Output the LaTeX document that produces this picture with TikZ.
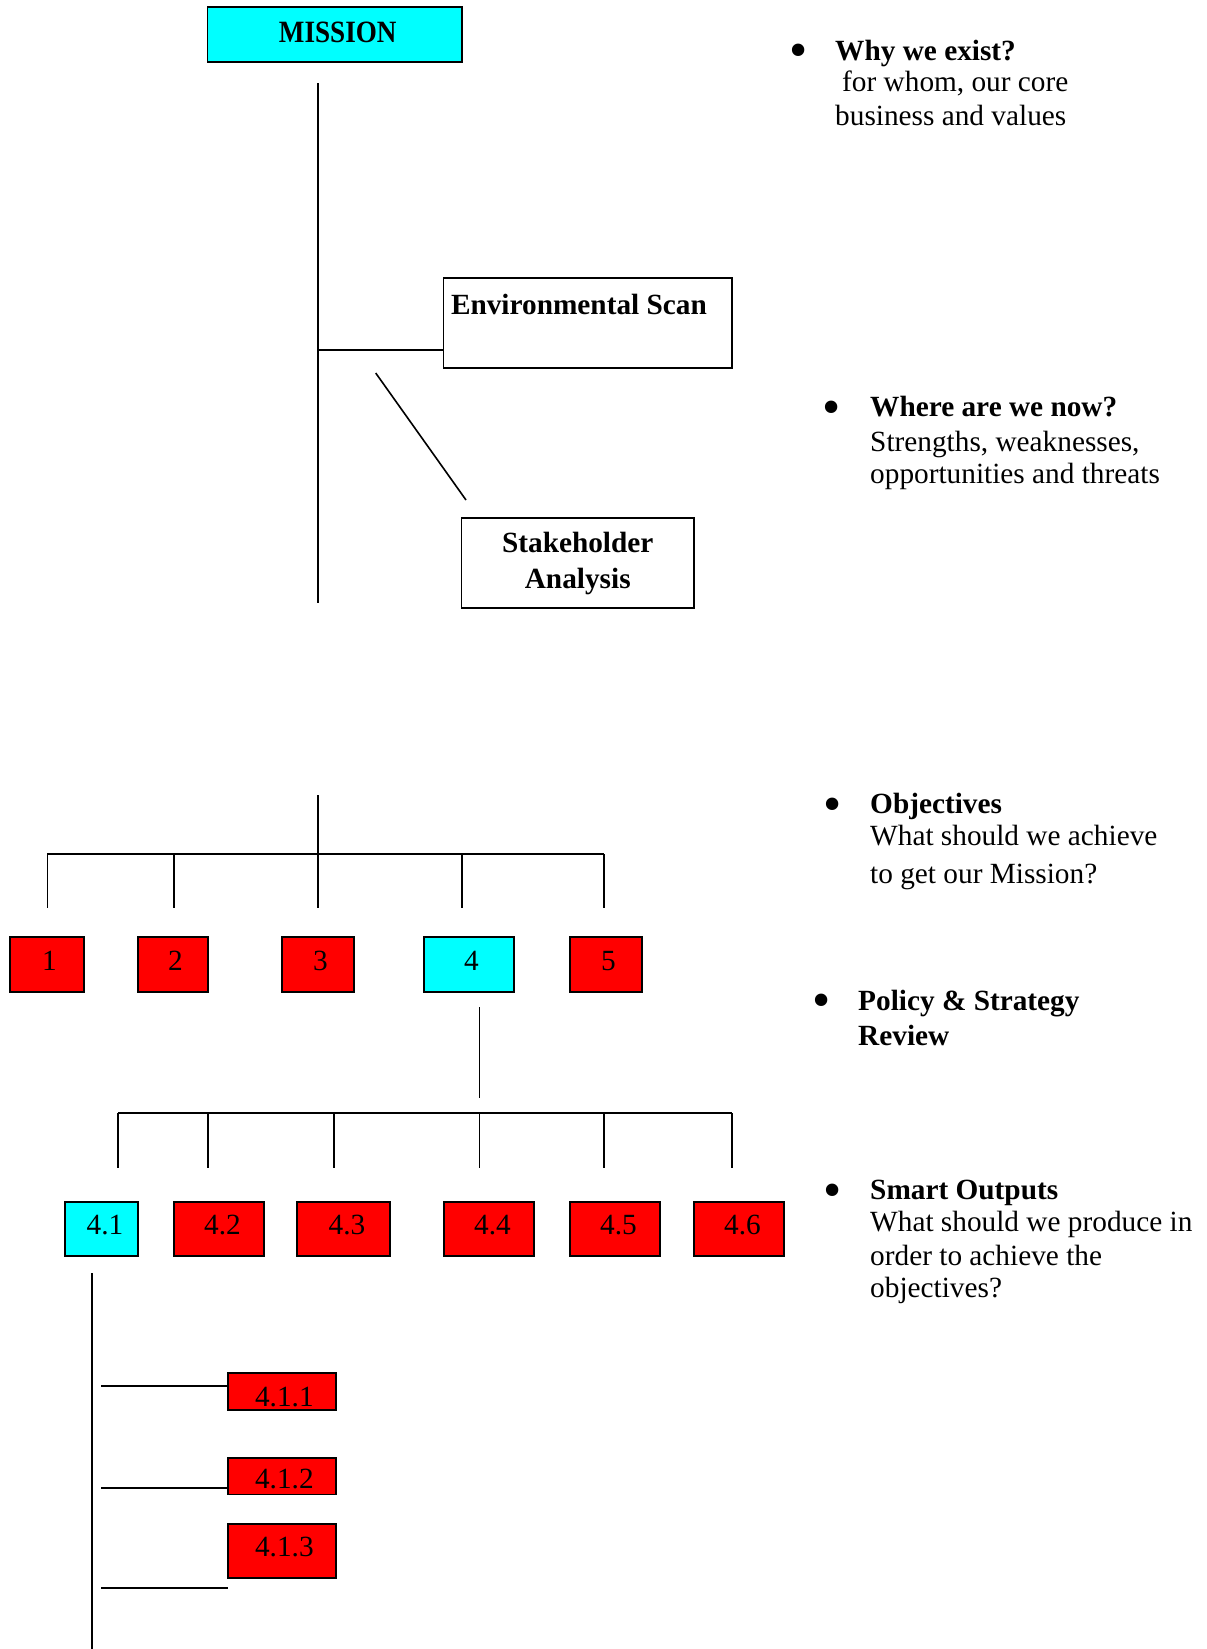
\documentclass[tikz,border=0pt]{standalone}
\usepackage{fontspec}
\setmainfont{Liberation Serif}
\definecolor{boxcyan}{RGB}{0,255,255}
\definecolor{boxred}{RGB}{255,0,0}
\begin{document}
\begin{tikzpicture}[x=1pt,y=-1pt,
  conn/.style={draw=black,line width=1.6pt},
  box/.style={draw=black,line width=1.6pt,inner sep=0pt,
    font=\fontsize{29.3}{33}\selectfont},
  redbox/.style={box,fill=boxred},
  cyanbox/.style={box,fill=boxcyan},
  whitebox/.style={box,fill=white},
  tdrop/.style={text height=#1,text depth=0pt},
  head/.style={anchor=base west,inner sep=0pt,
    font=\fontsize{29.3}{33}\selectfont\bfseries},
  body/.style={anchor=base west,inner sep=0pt,
    font=\fontsize{29.3}{33}\selectfont},
  bullet/.style={anchor=center,inner sep=0pt,xshift=2pt,yshift=-4pt,
    font=\fontsize{52}{52}\selectfont},
]
\useasboundingbox (0,0) rectangle (1207,1649);

% ---------- top part: mission and analysis ----------
\node[cyanbox,minimum width=254.5pt,minimum height=55pt,tdrop=16.4pt,
      font=\fontsize{31}{33}\selectfont\bfseries] (mission) at (334.75,34.5)
      {\hspace*{6pt}\scalebox{0.875}[1]{MISSION}};
\node[whitebox,minimum width=288.5pt,minimum height=90pt,inner xsep=7.5pt,
      text height=36pt,text depth=54pt,font=\fontsize{29.3}{33}\selectfont\bfseries]
      (scan) at (587.75,323) {\makebox[273.5pt][l]{Environmental Scan}};
\node[whitebox,minimum width=232.5pt,minimum height=90pt,align=center,
      font=\fontsize{29.3}{36}\selectfont\bfseries]
      (stake) at (577.75,563) {Stakeholder\\Analysis};

\coordinate (stemtop) at (318,83);
\coordinate (stembot) at (318,603);
\coordinate (scanjoin) at (318,350);
\coordinate (diagA) at (375.7,373);
\coordinate (diagB) at (466,500);
\draw[conn] (stemtop) -- (stembot);
\draw[conn] (scanjoin) -- (scanjoin -| scan.west);
\draw[conn] (diagA) -- (diagB);

% ---------- objectives ----------
\foreach \n/\cx/\w/\st in {1/47/74/redbox,2/173/70/redbox,3/318/72/redbox,
                          4/469/90/cyanbox,5/606/72/redbox}
  \node[\st,minimum width=\w pt,minimum height=55pt,tdrop=11pt]
       (obj\n) at (\cx,964.5) {\hspace*{5pt}\n};

\coordinate (objtop) at (318,795);
\coordinate (objbus) at (318,854);
\coordinate (objbusL) at (47.4,854);
\coordinate (objbusR) at (604,854);
\draw[conn] (objtop) -- (objbus);
\draw[conn] (objbusL) -- (objbusR);
\foreach \i/\x in {1/47.4,2/174,3/318,4/461.7,5/604}{
  \coordinate (od\i a) at (\x,854);
  \coordinate (od\i b) at (\x,908);
  \draw[conn] (od\i a) -- (od\i b);
}

% ---------- outputs of objective 4 ----------
\foreach \n/\cx/\w/\st in {1/101.5/73/cyanbox,2/219/90/redbox,3/343.5/93/redbox,
                          4/489/90/redbox,5/615/90/redbox,6/739/90/redbox}
  \node[\st,minimum width=\w pt,minimum height=54pt,tdrop=10pt]
       (out\n) at (\cx,1229) {\hspace*{7pt}4.\n};

\coordinate (outtop) at (479.6,1007);
\coordinate (outend) at (479.6,1098);
\coordinate (outbusL) at (118,1113);
\coordinate (outbusR) at (732,1113);
\draw[conn] (outtop) -- (outend);
\draw[conn] (outbusL) -- (outbusR);
\foreach \i/\x in {1/118,2/208,3/334,4/479.6,5/604,6/732}{
  \coordinate (pd\i a) at (\x,1113);
  \coordinate (pd\i b) at (\x,1168);
  \draw[conn] (pd\i a) -- (pd\i b);
}

% ---------- activities of output 4.1 ----------
\node[redbox,minimum width=108.3pt,minimum height=37pt,tdrop=29pt]
     (act1) at (281.85,1391.5) {\hspace*{5pt}4.1.1};
\node[redbox,minimum width=108.3pt,minimum height=36.6pt,tdrop=24pt]
     (act2) at (281.85,1476) {\hspace*{5pt}4.1.2};
\node[redbox,minimum width=108.3pt,minimum height=53.7pt,tdrop=10.3pt]
     (act3) at (281.85,1550.85) {\hspace*{5pt}4.1.3};

\coordinate (acttop) at (91.7,1273);
\coordinate (actbot) at (91.7,1649);
\coordinate (tick1) at (101,1385.7);
\coordinate (tick2) at (101,1487.7);
\coordinate (tick3) at (101,1587.7);
\coordinate (tick3end) at (228,1587.7);
\draw[conn] (acttop) -- (actbot);
\draw[conn] (tick1) -- (tick1 -| act1.west);
\draw[conn] (tick2) -- (tick2 -| act2.west);
\draw[conn] (tick3) -- (tick3end);

% ---------- side notes ----------
\node[bullet] (b1) at (797,51.7) {\textbullet};
\node[head] (n1a) at (835,60) {Why we exist?};
\node[body] (n1b) at (842,91.7) {for whom, our core};
\node[body] (n1c) at (835,125) {business and values};

\node[bullet] (b2) at (830,409) {\textbullet};
\node[head] (n2a) at (870,416.7) {Where are we now?};
\node[body] (n2b) at (870,451.7) {Strengths, weaknesses,};
\node[body] (n2c) at (870,483.3) {opportunities and threats};

\node[bullet] (b3) at (831,806) {\textbullet};
\node[head] (n3a) at (870,813.6) {Objectives};
\node[body] (n3b) at (870,845.7) {What should we achieve};
\node[body] (n3c) at (870,883) {to get our Mission?};

\node[bullet] (b4) at (820,1002) {\textbullet};
\node[head] (n4a) at (858,1010) {Policy \& Strategy};
\node[head] (n4b) at (858,1045.7) {Review};

\node[bullet] (b5) at (831,1192) {\textbullet};
\node[head] (n5a) at (870,1199) {Smart Outputs};
\node[body] (n5b) at (870,1231) {What should we produce in};
\node[body] (n5c) at (870,1265) {order to achieve the};
\node[body] (n5d) at (870,1297.5) {objectives?};
\end{tikzpicture}
\end{document}
